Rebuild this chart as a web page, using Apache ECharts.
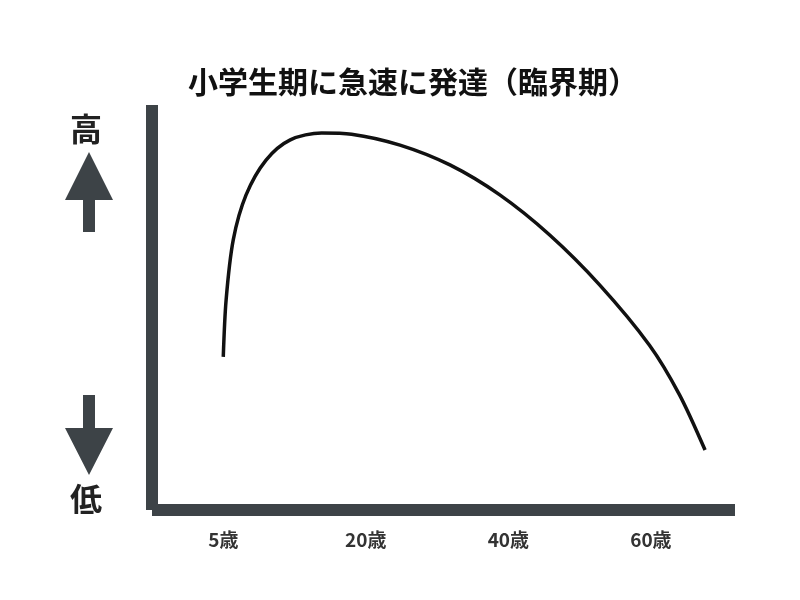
<!DOCTYPE html><html><head><meta charset="utf-8"><script src="https://cdn.jsdelivr.net/npm/echarts@6/dist/echarts.min.js"></script></head><body style="margin:0"><div id="c" style="width:800px;height:600px"></div><script>
const tickPos=[0,1,2,3];
const tickLabels=['5歳','20歳','40歳','60歳'];
const xs=[0,0.02,0.07,0.16,0.30,0.47,0.69,0.90,1.24,1.59,1.94,2.29,2.64,2.99,3.20,3.38];
const ys=[37.8,51.9,66.7,77.8,86.4,91.4,93.1,92.8,90.1,85.2,77.8,67.9,55.6,40.7,28.5,14.8];
const c=echarts.init(document.getElementById('c'));
const ax='#3d4347';
c.setOption({
title:{text:'小学生期に急速に発達（臨界期）',left:183,top:62,textStyle:{fontSize:30,fontWeight:'bold',color:'#111',fontFamily:'Noto Sans CJK JP'}},
grid:{left:152,right:65,top:105,bottom:90},
xAxis:{type:'value',min:-0.5,max:3.59,axisLine:{onZero:false,lineStyle:{color:ax,width:12,cap:'butt'}},axisTick:{show:false},splitLine:{show:false},
axisLabel:{customValues:tickPos,formatter:v=>tickLabels[tickPos.indexOf(v)]||'',fontSize:19,fontWeight:'bold',color:'#333',margin:20,fontFamily:'Noto Sans CJK JP'}},
yAxis:{type:'value',min:0,max:100,axisLine:{show:true,onZero:false,lineStyle:{color:ax,width:12,cap:'butt'}},axisTick:{show:false},axisLabel:{show:false},splitLine:{show:false}},
graphic:[
{type:'text',left:70,top:113,style:{text:'高',fontSize:32,fontWeight:'bold',fill:'#222',fontFamily:'Noto Sans CJK JP'}},
{type:'text',left:70,top:483,style:{text:'低',fontSize:32,fontWeight:'bold',fill:'#222',fontFamily:'Noto Sans CJK JP'}},
{type:'polygon',shape:{points:[[89,152],[65,200],[83,200],[83,232],[95,232],[95,200],[113,200]]},style:{fill:ax}},
{type:'polygon',shape:{points:[[83,395],[95,395],[95,428],[113,428],[89,475],[65,428],[83,428]]},style:{fill:ax}}
],
series:[{type:'line',smooth:0.3,symbol:'none',data:xs.map((x,i)=>[x,ys[i]]),lineStyle:{color:'#111',width:3.5}}]
});
</script></body></html>
